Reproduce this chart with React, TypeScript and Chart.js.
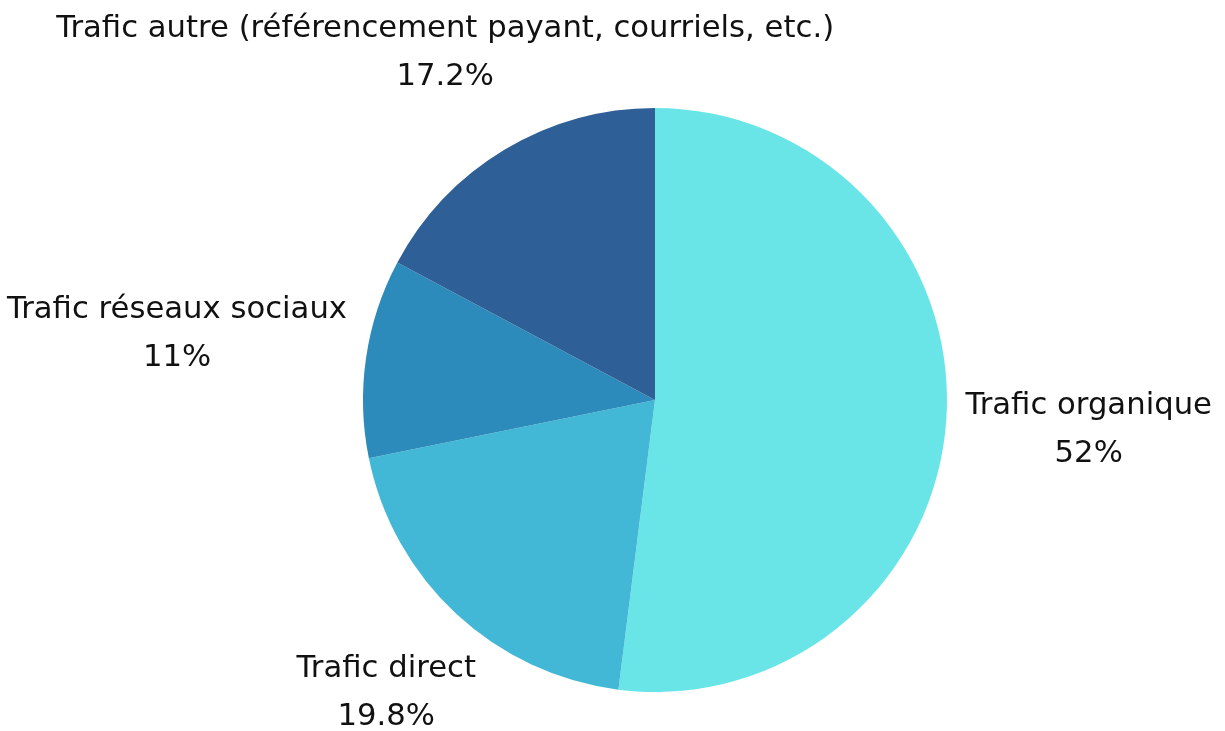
import React, { useEffect, useRef } from "react";
import { Chart, registerables } from "chart.js";

Chart.register(...registerables);

const categories = [
  "Trafic organique",
  "Trafic direct",
  "Trafic réseaux sociaux",
  "Trafic autre (référencement payant, courriels, etc.)",
];
const shares = [52, 19.8, 11, 17.2];
const sliceColors = ["#69E5E8", "#42B8D6", "#2C8BBA", "#2E5F97"];

const FONT_SIZE = 30.7;
const CAP_HEIGHT = FONT_SIZE * 0.73;
const LINE_GAP = 48;
const LABEL_DIST = 17;
const TEXT_TOP_MARGIN = 15;
const TEXT_BOTTOM_MARGIN = 6;

const outsideLabels = {
  id: "outsideLabels",
  afterDatasetsDraw(chart: any) {
    const ctx = chart.ctx as CanvasRenderingContext2D;
    const meta = chart.getDatasetMeta(0);
    const data = chart.data.datasets[0].data as number[];
    const labels = chart.data.labels as string[];
    ctx.save();
    ctx.font = `${FONT_SIZE}px "DejaVu Sans", sans-serif`;
    ctx.fillStyle = "#111111";
    ctx.textAlign = "center";
    ctx.textBaseline = "alphabetic";
    meta.data.forEach((arc: any, i: number) => {
      const p = arc.getProps(["x", "y", "startAngle", "endAngle", "outerRadius"], true);
      const mid = (p.startAngle + p.endAngle) / 2;
      const dx = Math.cos(mid);
      const dy = Math.sin(mid);
      const line1 = labels[i];
      const line2 = `${data[i]}%`;
      const w = Math.max(ctx.measureText(line1).width, ctx.measureText(line2).width) / 2;
      const h = LINE_GAP / 2 + FONT_SIZE * 0.53;
      const ax = p.x + dx * p.outerRadius;
      const ay = p.y + dy * p.outerRadius;
      let t = LABEL_DIST + Math.abs(dx) * w + Math.abs(dy) * h;
      let cy = ay + dy * t;
      const textHalf = LINE_GAP / 2 + CAP_HEIGHT / 2;
      const minCy = TEXT_TOP_MARGIN + textHalf;
      const maxCy = chart.height - TEXT_BOTTOM_MARGIN - textHalf;
      if (cy < minCy && dy < 0) {
        t = (minCy - ay) / dy;
      } else if (cy > maxCy && dy > 0) {
        t = (maxCy - ay) / dy;
      }
      const cx = ax + dx * t;
      cy = ay + dy * t;
      ctx.fillText(line1, cx, cy - LINE_GAP / 2 + CAP_HEIGHT / 2);
      ctx.fillText(line2, cx, cy + LINE_GAP / 2 + CAP_HEIGHT / 2);
    });
    ctx.restore();
  },
};

export default function App() {
  const ref = useRef<HTMLCanvasElement | null>(null);
  useEffect(() => {
    if (!ref.current) return;
    const chart = new Chart(ref.current, {
      type: "pie",
      data: {
        labels: categories,
        datasets: [
          {
            data: shares,
            backgroundColor: sliceColors,
            borderWidth: 0,
          },
        ],
      },
      options: {
        responsive: false,
        animation: false,
        devicePixelRatio: 1,
        layout: { padding: { left: 363, right: 278, top: 108, bottom: 39 } },
        plugins: {
          legend: { display: false },
          tooltip: { enabled: false },
        },
      },
      plugins: [outsideLabels],
    });
    return () => chart.destroy();
  }, []);
  return (
    <div style={{ position: "fixed", left: 0, top: 0, width: 1225, height: 731, background: "#ffffff" }}>
      <canvas ref={ref} width={1225} height={731} />
    </div>
  );
}
